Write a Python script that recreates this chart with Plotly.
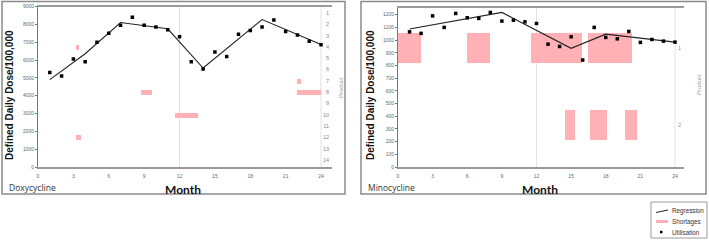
import plotly.graph_objects as go

W, H = 709, 241

# ---------------- Data ----------------
months = list(range(1, 25))

doxy_util = [5300, 5100, 6050, 5900, 7000, 7500, 7950, 8400, 7950, 7850, 7700, 7300,
             5900, 5500, 6450, 6200, 7450, 7650, 7850, 8250, 7600, 7400, 7050, 6850]
doxy_reg_months = [1, 4, 7, 11, 14, 19, 24]
doxy_reg_values = [4900, 6350, 8100, 7750, 5550, 8270, 6870]
doxy_short_product = [4, 8, 10, 12, 7, 8]
doxy_short_start = [3.2, 8.7, 11.6, 3.2, 22.0, 22.0]
doxy_short_end = [3.5, 9.7, 13.6, 3.65, 22.3, 24.0]

mino_util = [1065, 1053, 1191, 1100, 1210, 1176, 1171, 1218, 1150, 1157, 1144, 1131,
             968, 950, 1026, 843, 1100, 1021, 1010, 1068, 982, 1005, 992, 984]
mino_reg_months = [1, 9, 15, 18, 24]
mino_reg_values = [1087, 1218, 935, 1047, 984]
mino_short_product = [1, 1, 1, 1, 2, 2, 2]
mino_short_start = [0, 6, 11.5, 16.5, 14.5, 16.6, 19.7]
mino_short_end = [2, 8, 15.9, 20.3, 15.3, 18.1, 20.7]

x_ticks = list(range(0, 25, 3))
doxy_ticks = list(range(0, 9001, 1000))
mino_ticks = list(range(0, 1201, 100))
doxy_products = list(range(1, 15))
mino_products = [1, 2]

legend_labels = ["Regression", "Shortages", "Utilisation"]

# ---------------- Styles ----------------
PINK = "#ffb1b5"
TICKCOL = "#4f6f80"
FONT = "Liberation Sans"

def px(x):
    return x / W

def py(y):
    return 1 - y / H

fig = go.Figure()

# Shortages (base product axes, drawn first)
fig.add_trace(go.Bar(
    orientation="h", y=doxy_short_product,
    x=[e - s for s, e in zip(doxy_short_start, doxy_short_end)],
    base=doxy_short_start, width=0.45,
    marker=dict(color=PINK, line=dict(width=0)),
    xaxis="x", yaxis="y", name="Shortages"))
fig.add_trace(go.Bar(
    orientation="h", y=mino_short_product,
    x=[e - s for s, e in zip(mino_short_start, mino_short_end)],
    base=mino_short_start, width=0.4,
    marker=dict(color=PINK, line=dict(width=0)),
    xaxis="x2", yaxis="y3", name="Shortages"))

# Regression lines
fig.add_trace(go.Scatter(x=doxy_reg_months, y=doxy_reg_values, mode="lines",
                         line=dict(color="#222", width=1.1),
                         xaxis="x", yaxis="y2", name="Regression"))
fig.add_trace(go.Scatter(x=mino_reg_months, y=mino_reg_values, mode="lines",
                         line=dict(color="#222", width=1.1),
                         xaxis="x2", yaxis="y4", name="Regression"))

# Utilisation points
fig.add_trace(go.Scatter(x=months, y=doxy_util, mode="markers",
                         marker=dict(symbol="square", size=3.5, color="black"),
                         xaxis="x", yaxis="y2", name="Utilisation"))
fig.add_trace(go.Scatter(x=months, y=mino_util, mode="markers",
                         marker=dict(symbol="square", size=3.5, color="black"),
                         xaxis="x2", yaxis="y4", name="Utilisation"))

xcommon = dict(tickvals=x_ticks, showgrid=False, zeroline=False, showline=True,
               linecolor="#9a9a9a", linewidth=1.5, mirror=True,
               ticks="outside", ticklen=3, tickcolor="rgba(0,0,0,0)",
               tickfont=dict(size=5, color=TICKCOL, family=FONT))
prodcommon = dict(side="right", ticklabelposition="inside", showgrid=False,
                  zeroline=False, showline=False, ticks="",
                  tickfont=dict(size=5.5, color="#8a8a8a", family=FONT))
dddcommon = dict(side="left", showgrid=False, zeroline=False, showline=True,
                 linecolor="#777", linewidth=1, ticks="outside", ticklen=2,
                 tickcolor="#777", tickfont=dict(size=5, color=TICKCOL, family=FONT))

fig.update_layout(
    width=W, height=H, margin=dict(l=0, r=0, t=0, b=0, autoexpand=False),
    paper_bgcolor="white", plot_bgcolor="white",
    font=dict(family=FONT),
    showlegend=False,
    xaxis=dict(domain=[px(38), px(332)], range=[0, 24.93], anchor="y", **xcommon),
    yaxis=dict(domain=[py(167), py(6.5)], range=[14.62, 0.43], anchor="x",
               tickvals=doxy_products, **prodcommon),
    yaxis2=dict(overlaying="y", anchor="x", range=[0, 9000], tickvals=doxy_ticks,
                **dddcommon),
    xaxis2=dict(domain=[px(398), px(684)], range=[0, 24.78], anchor="y3", **xcommon),
    yaxis3=dict(domain=[py(167), py(8)], range=[2.545, 0.48], anchor="x2",
                tickvals=mino_products, **prodcommon),
    yaxis4=dict(overlaying="y3", anchor="x2", range=[0, 1253], tickvals=mino_ticks,
                **dddcommon),
    bargap=0,
)

shapes = []
# outer panel boxes
for x0, x1 in [(2, 345), (361, 706)]:
    shapes.append(dict(type="rect", xref="paper", yref="paper",
                       x0=px(x0), x1=px(x1), y0=py(194), y1=py(1.5),
                       line=dict(color="#8a8a8a", width=1.5), layer="below"))
# vertical gridlines at months 12 and 24
for xr, yr in [("x", "y domain"), ("x2", "y3 domain")]:
    for m in (12, 24):
        shapes.append(dict(type="line", xref=xr, yref=yr, x0=m, x1=m, y0=0, y1=1,
                           line=dict(color="#e2e2e2", width=1), layer="below"))
# manual legend box and symbols
shapes.append(dict(type="rect", xref="paper", yref="paper",
                   x0=px(651), x1=px(707), y0=py(238), y1=py(202),
                   line=dict(color="#9a9a9a", width=1)))
shapes.append(dict(type="line", xref="paper", yref="paper",
                   x0=px(656), x1=px(668), y0=py(212.5), y1=py(210),
                   line=dict(color="#222", width=1)))
shapes.append(dict(type="rect", xref="paper", yref="paper",
                   x0=px(656), x1=px(668), y0=py(223), y1=py(220),
                   fillcolor=PINK, line=dict(width=0)))
shapes.append(dict(type="rect", xref="paper", yref="paper",
                   x0=px(660), x1=px(662.5), y0=py(233.3), y1=py(230.8),
                   fillcolor="black", line=dict(width=0)))
fig.update_layout(shapes=shapes)

ann = []
for xc in (10, 371):
    ann.append(dict(text="<b>Defined Daily Dose/100,000</b>", xref="paper", yref="paper",
                    x=px(xc), y=py(95), xanchor="center", yanchor="middle",
                    textangle=-90, showarrow=False,
                    font=dict(size=10, color="#111", family=FONT)))
for xc in (183, 540):
    ann.append(dict(text="<b>Month</b>", xref="paper", yref="paper", x=px(xc), y=py(189),
                    xanchor="center", yanchor="middle",
                    showarrow=False, font=dict(size=12, color="#111", family="Lato")))
for xc, t in [(7, "Doxycycline"), (366, "Minocycline")]:
    ann.append(dict(text=t, xref="paper", yref="paper", x=px(xc), y=py(187),
                    xanchor="left", yanchor="middle", showarrow=False,
                    font=dict(size=8.5, color="#333", family="Open Sans")))
for xc, yc in [(341, 88), (699, 85)]:
    ann.append(dict(text="Product", xref="paper", yref="paper", x=px(xc), y=py(yc),
                    xanchor="center", yanchor="middle",
                    textangle=-90, showarrow=False,
                    font=dict(size=6, color="#999", family=FONT)))
for lab, yc in zip(legend_labels, (211, 221.5, 232)):
    ann.append(dict(text=lab, xref="paper", yref="paper", x=px(670), y=py(yc),
                    xanchor="left", yanchor="middle", showarrow=False,
                    font=dict(size=6.3, color="#333", family=FONT)))
fig.update_layout(annotations=ann)

fig.write_html("out.html", config={"displayModeBar": False},
               post_script="document.body.style.margin='0';document.body.style.overflow='hidden';")
